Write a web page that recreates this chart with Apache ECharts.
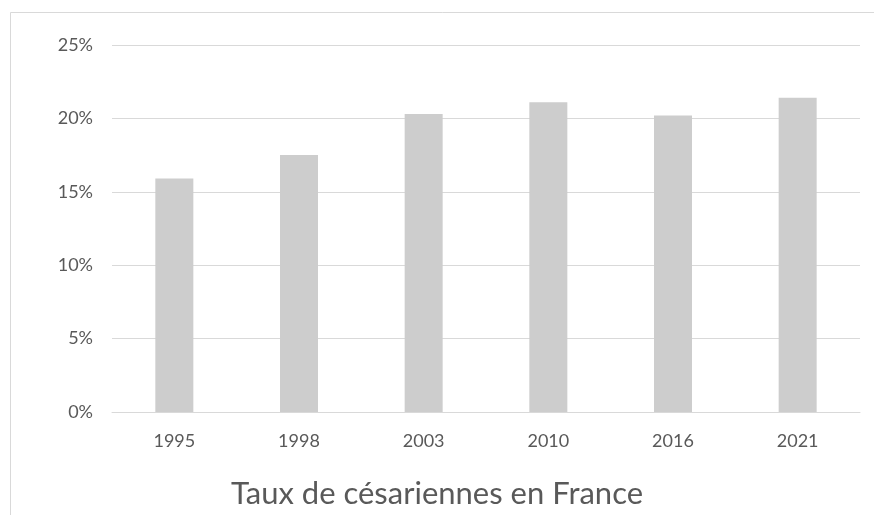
<!DOCTYPE html>
<html>
<head>
<meta charset="utf-8">
<script src="https://cdn.jsdelivr.net/npm/echarts@6/dist/echarts.min.js"></script>
<style>
html,body{margin:0;padding:0;background:#fff;}
#chart{width:874px;height:515px;}
</style>
</head>
<body>
<div id="chart"></div>
<script>
const categories = ['1995', '1998', '2003', '2010', '2016', '2021'];
const values = [15.9, 17.5, 20.3, 21.1, 20.2, 21.4];
const yTicks = [0, 5, 10, 15, 20, 25];
const titleText = 'Taux de césariennes en France';

const chart = echarts.init(document.getElementById('chart'), null, {renderer: 'canvas'});
const FONT = 'Lato, "Open Sans", sans-serif';
chart.setOption({
  animation: false,
  backgroundColor: '#ffffff',
  graphic: [{
    type: 'polyline',
    shape: {points: [[10.5, 515], [10.5, 12.5], [874, 12.5]]},
    style: {stroke: '#d9d9d9', lineWidth: 1, fill: null},
    silent: true
  }],
  title: {
    text: titleText,
    left: 'center',
    top: 473,
    textStyle: {fontFamily: FONT, fontSize: 31, fontWeight: 'normal', color: '#595959'}
  },
  grid: {left: 112, right: 14, top: 45, bottom: 103, containLabel: false},
  xAxis: {
    type: 'category',
    data: categories,
    axisLine: {show: true, lineStyle: {color: '#d9d9d9', width: 1}},
    axisTick: {show: false},
    axisLabel: {fontFamily: FONT, fontSize: 18, color: '#595959', margin: 20}
  },
  yAxis: {
    type: 'value',
    min: yTicks[0],
    max: yTicks[yTicks.length - 1],
    interval: 5,
    axisLine: {show: false},
    axisTick: {show: false},
    splitLine: {lineStyle: {color: '#d9d9d9', width: 1}},
    axisLabel: {fontFamily: FONT, fontSize: 18, color: '#595959', margin: 19,
      formatter: v => v + '%'}
  },
  series: [{
    type: 'bar',
    data: values,
    barWidth: 38,
    itemStyle: {color: '#cdcdcd'}
  }]
});
</script>
</body>
</html>
